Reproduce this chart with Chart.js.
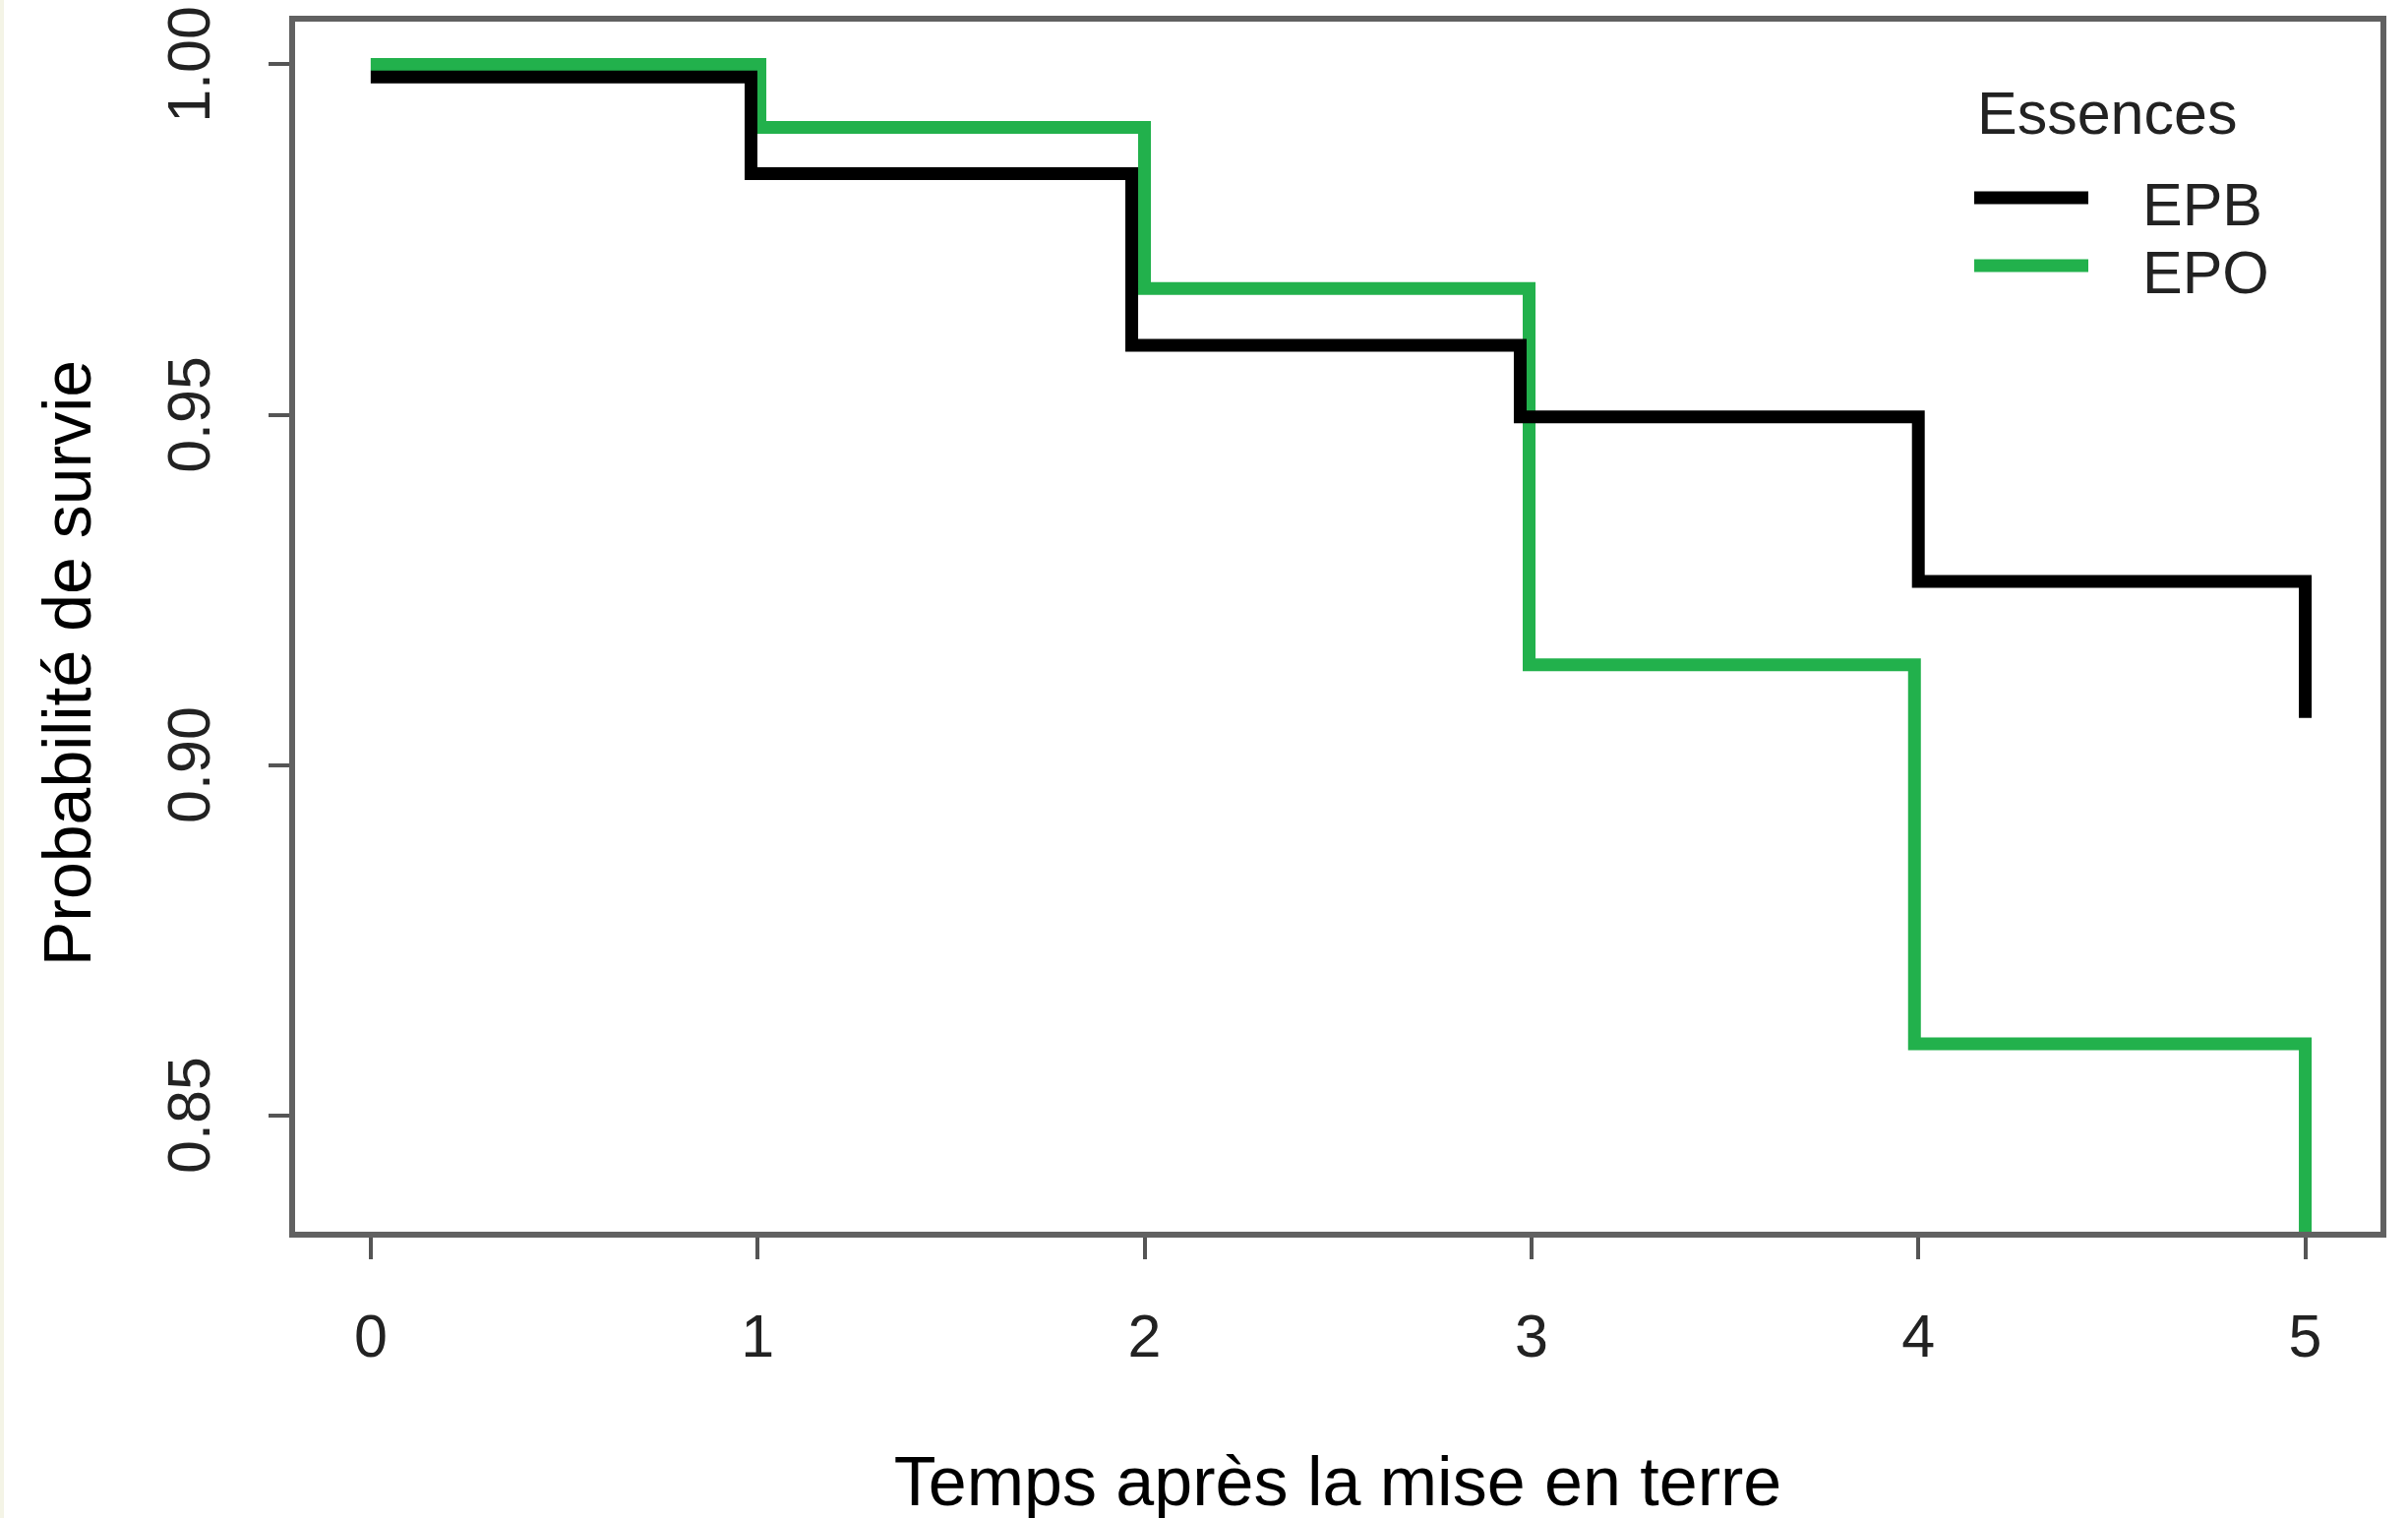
<!DOCTYPE html>
<html>
<head>
<meta charset="utf-8">
<script src="https://cdn.jsdelivr.net/npm/chart.js@4.4.0/dist/chart.umd.min.js"></script>
<style>
  body { margin: 0; background: #fff; }
  canvas { display: block; }
</style>
</head>
<body>
<canvas id="graphId" width="2448" height="1543"></canvas>
<script>
//////////////////////////////// Donnees \\\\\\\\\\\\\\\\\\\\\\\\\\\\\\\\

var temps_EPB = [0, 0.983, 1.967, 2.971, 4.0, 5.0];
var survie_EPB = [0.9982, 0.9844, 0.9599, 0.9497, 0.9262, 0.9067];
var temps_EPO = [0, 1.006, 2.0, 2.994, 3.99, 5.0];
var survie_EPO = [1.0, 0.9910, 0.9680, 0.9143, 0.8602, 0.80];

var essences = ['EPB', 'EPO'];
var couleurs = ['#000000', '#22b14c'];
var ticks_x = [0, 1, 2, 3, 4, 5];
var ticks_y = [0.85, 0.90, 0.95, 1.00];
var labels_y = ['0.85', '0.90', '0.95', '1.00'];

var police = "'Liberation Sans', Arial, sans-serif";

function points(t, s) {
  var pts = [];
  for (var i = 0; i < t.length; i++) {
    pts.push({x: t[i], y: s[i]});
  }
  return pts;
}

//////////////////////////////// Cadre, etiquettes y, legende \\\\\\\\\\\\\\\\\\\\\\\\\\\\\\\\

var cadre = {
  id: 'cadre',
  beforeDraw: function(chart) {
    var ctx = chart.ctx;
    ctx.save();
    ctx.fillStyle = '#f4f4e6';
    ctx.fillRect(0, 0, 4, chart.height);
    ctx.restore();
  },
  afterDraw: function(chart) {
    var ctx = chart.ctx;
    var a = chart.chartArea;
    var sy = chart.scales.y;
    ctx.save();

    // boite autour du graphique
    ctx.strokeStyle = '#616161';
    ctx.lineWidth = 6;
    ctx.strokeRect(a.left, a.top, a.right - a.left, a.bottom - a.top);

    // etiquettes de l'axe y, tournees comme dans R
    ctx.fillStyle = '#222';
    ctx.font = '61px ' + police;
    ctx.textAlign = 'center';
    ctx.textBaseline = 'alphabetic';
    for (var i = 0; i < ticks_y.length; i++) {
      var py = sy.getPixelForValue(ticks_y[i]);
      ctx.save();
      ctx.translate(213, py);
      ctx.rotate(-Math.PI / 2);
      ctx.fillText(labels_y[i], 0, 0);
      ctx.restore();
    }

    // titre de l'axe y
    ctx.save();
    ctx.fillStyle = '#000';
    ctx.font = '68px ' + police;
    ctx.textBaseline = 'middle';
    ctx.translate(73, 674);
    ctx.rotate(-Math.PI / 2);
    ctx.fillText('Probabilité de survie', 0, 0);
    ctx.restore();

    // legende
    ctx.textAlign = 'left';
    ctx.textBaseline = 'alphabetic';
    ctx.fillStyle = '#222';
    ctx.font = '61px ' + police;
    ctx.fillText('Essences', 2010, 136);
    var ly = [201, 270];
    var lb = [229, 298];
    for (var j = 0; j < essences.length; j++) {
      ctx.strokeStyle = couleurs[j];
      ctx.lineWidth = 13;
      ctx.beginPath();
      ctx.moveTo(2007, ly[j]);
      ctx.lineTo(2123, ly[j]);
      ctx.stroke();
      ctx.fillText(essences[j], 2178, lb[j]);
    }
    ctx.restore();
  }
};

//////////////////////////////// Graphique \\\\\\\\\\\\\\\\\\\\\\\\\\\\\\\\

var ctx = document.getElementById('graphId').getContext('2d');
var myChart = new Chart(ctx, {
  type: 'line',
  data: {
    datasets: [{
      label: essences[0],
      data: points(temps_EPB, survie_EPB),
      borderColor: couleurs[0],
      borderWidth: 13,
      stepped: true,
      pointRadius: 0,
      borderJoinStyle: 'miter',
      borderCapStyle: 'butt',
      clip: 0
    }, {
      label: essences[1],
      data: points(temps_EPO, survie_EPO),
      borderColor: couleurs[1],
      borderWidth: 13,
      stepped: true,
      pointRadius: 0,
      borderJoinStyle: 'miter',
      borderCapStyle: 'butt',
      clip: 0
    }]
  },
  options: {
    responsive: false,
    animation: false,
    layout: { padding: { top: 19, right: 25, left: 0, bottom: 0 } },
    plugins: {
      legend: { display: false },
      tooltip: { enabled: false }
    },
    scales: {
      x: {
        type: 'linear',
        min: -0.203,
        max: 5.202,
        afterFit: function(s) { s.height = 288; },
        afterBuildTicks: function(s) { s.ticks = ticks_x.map(function(v) { return {value: v}; }); },
        border: { display: false },
        grid: { drawOnChartArea: false, tickLength: 25, color: '#555', lineWidth: 4 },
        ticks: { color: '#222', font: { family: police, size: 61 }, padding: 46, maxRotation: 0 },
        title: {
          display: true,
          text: 'Temps après la mise en terre',
          color: '#000',
          font: { family: police, size: 70, lineHeight: 1 },
          padding: { top: 0, bottom: -3 }
        }
      },
      y: {
        type: 'linear',
        min: 0.83294,
        max: 1.00653,
        afterFit: function(s) { s.width = 297; },
        afterBuildTicks: function(s) { s.ticks = ticks_y.map(function(v) { return {value: v}; }); },
        border: { display: false },
        grid: { drawOnChartArea: false, tickLength: 24, color: '#555', lineWidth: 4 },
        ticks: { display: false },
        title: { display: false }
      }
    }
  },
  plugins: [cadre]
});
</script>
</body>
</html>
